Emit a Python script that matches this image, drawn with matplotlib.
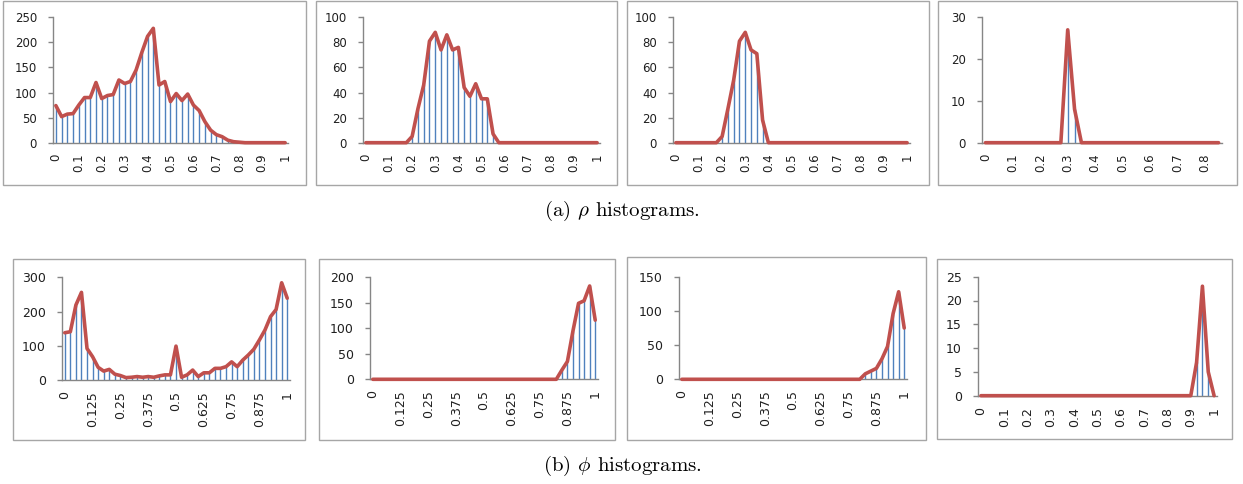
import matplotlib
matplotlib.use('Agg')
import matplotlib.pyplot as plt
from matplotlib.patches import Rectangle

plt.rcParams['mathtext.fontset'] = 'cm'
plt.rcParams['font.family'] = ['DejaVu Sans']

# ---------------- data ----------------
bins_41 = [0, 0.025, 0.05, 0.075, 0.1, 0.125, 0.15, 0.175, 0.2, 0.225, 0.25, 0.275, 0.3,
           0.325, 0.35, 0.375, 0.4, 0.425, 0.45, 0.475, 0.5, 0.525, 0.55, 0.575, 0.6,
           0.625, 0.65, 0.675, 0.7, 0.725, 0.75, 0.775, 0.8, 0.825, 0.85, 0.875, 0.9,
           0.925, 0.95, 0.975, 1.0]
bins_35 = bins_41[:35]

rho_1 = [74, 52, 57, 58, 75, 90, 90, 120, 88, 94, 96, 125, 118, 122, 145, 180, 212, 228,
         115, 122, 82, 98, 84, 97, 75, 64, 42, 25, 16, 12, 5, 2, 1, 0, 0, 0, 0, 0, 0, 0, 0]
rho_2 = [0, 0, 0, 0, 0, 0, 0, 0, 5, 27, 46, 81, 88, 74, 86, 74, 76, 44, 37, 47, 35, 35, 7,
         0, 0, 0, 0, 0, 0, 0, 0, 0, 0, 0, 0, 0, 0, 0, 0, 0, 0]
rho_3 = [0, 0, 0, 0, 0, 0, 0, 0, 5, 27, 50, 81, 88, 74, 71, 18, 0, 0, 0, 0, 0, 0, 0,
         0, 0, 0, 0, 0, 0, 0, 0, 0, 0, 0, 0, 0, 0, 0, 0, 0, 0]
rho_4 = [0, 0, 0, 0, 0, 0, 0, 0, 0, 0, 0, 0, 27, 8, 0, 0, 0, 0, 0, 0, 0, 0, 0,
         0, 0, 0, 0, 0, 0, 0, 0, 0, 0, 0, 0]

phi_1 = [138, 141, 219, 256, 92, 68, 37, 26, 31, 17, 13, 7, 8, 10, 8, 10, 8, 12, 15, 15, 99,
         8, 15, 29, 10, 21, 21, 34, 34, 39, 53, 39, 58, 73, 90, 117, 146, 185, 206, 284, 239]
phi_2 = [0, 0, 0, 0, 0, 0, 0, 0, 0, 0, 0, 0, 0, 0, 0, 0, 0, 0, 0, 0, 0, 0, 0, 0, 0, 0, 0,
         0, 0, 0, 0, 0, 0, 0, 18, 35, 95, 149, 154, 183, 116]
phi_3 = [0, 0, 0, 0, 0, 0, 0, 0, 0, 0, 0, 0, 0, 0, 0, 0, 0, 0, 0, 0, 0, 0, 0, 0, 0, 0, 0,
         0, 0, 0, 0, 0, 0, 8, 12, 16, 30, 48, 96, 128, 75]
phi_4 = [0, 0, 0, 0, 0, 0, 0, 0, 0, 0, 0, 0, 0, 0, 0, 0, 0, 0, 0, 0, 0, 0, 0, 0, 0, 0, 0,
         0, 0, 0, 0, 0, 0, 0, 0, 0, 0, 7, 23, 5, 0]

labels_tenths = ['0', '0.1', '0.2', '0.3', '0.4', '0.5', '0.6', '0.7', '0.8', '0.9', '1']
labels_tenths_short = ['0', '0.1', '0.2', '0.3', '0.4', '0.5', '0.6', '0.7', '0.8']
labels_eighths = ['0', '0.125', '0.25', '0.375', '0.5', '0.625', '0.75', '0.875', '1']

captions = [r'(a) $\rho$ histograms.', r'(b) $\phi$ histograms.']

# ---------------- style ----------------
W, H = 1243, 484
BLUE = '#4F81BD'
RED = '#C0504D'
AXIS_GREY = '#868686'
BOX_GREY = '#A6A6A6'
TXT = '#1F1F1F'

fig = plt.figure(figsize=(W / 100, H / 100), dpi=100)


def add_panel(box, axrect, cats, values, label_step, tick_labels, ymax, ystep, fs):
    bx0, by0, bx1, by1 = box
    fig.patches.append(Rectangle((bx0 / W, 1 - by1 / H), (bx1 - bx0) / W, (by1 - by0) / H,
                                 transform=fig.transFigure, fill=False,
                                 edgecolor=BOX_GREY, lw=1.0))
    l, r, yb, yt = axrect
    ax = fig.add_axes([l / W, 1 - yb / H, (r - l) / W, (yb - yt) / H])
    pos = list(range(len(cats)))
    ax.vlines(pos, 0, values, colors=BLUE, lw=1.0, zorder=2)
    ax.plot(pos, values, color=RED, lw=2.6, solid_joinstyle='round',
            solid_capstyle='round', zorder=3, clip_on=False)
    ax.set_xlim(-0.5, len(cats) - 0.5)
    ax.set_ylim(0, ymax)
    ax.set_xticks(pos[::label_step][:len(tick_labels)])
    ax.set_xticklabels(tick_labels, rotation=90, fontsize=fs, color=TXT)
    yt_vals = list(range(0, ymax + 1, ystep))
    ax.set_yticks(yt_vals)
    ax.set_yticklabels([str(v) for v in yt_vals], fontsize=fs, color=TXT)
    ax.tick_params(axis='x', length=0, pad=8)
    ax.tick_params(axis='y', length=3.5, width=1, color=AXIS_GREY, pad=8)
    for s in ('top', 'right'):
        ax.spines[s].set_visible(False)
    for s in ('left', 'bottom'):
        ax.spines[s].set_color(AXIS_GREY)
        ax.spines[s].set_linewidth(1.0)
    ax.patch.set_alpha(0)
    return ax


# Row (a): rho
add_panel((3, 1, 306, 185), (53, 288, 142.7, 17.3), bins_41, rho_1, 4, labels_tenths, 250, 50, 8.5)
add_panel((316, 1, 617, 185), (363, 600, 142.7, 17.3), bins_41, rho_2, 4, labels_tenths, 100, 20, 8.5)
add_panel((627, 1, 929, 185), (673, 910, 142.7, 17.3), bins_41, rho_3, 4, labels_tenths, 100, 20, 8.5)
add_panel((938, 1, 1237, 185), (982, 1222, 142.7, 17.3), bins_35, rho_4, 4, labels_tenths_short, 30, 10, 8.5)

# Row (b): phi
add_panel((13, 259, 305, 440), (62, 290, 380, 277.3), bins_41, phi_1, 5, labels_eighths, 300, 100, 9)
add_panel((319, 259, 615, 440), (370, 598, 379.3, 277.3), bins_41, phi_2, 5, labels_eighths, 200, 50, 9)
add_panel((627, 257, 926, 440), (679, 907, 379.3, 276.7), bins_41, phi_3, 5, labels_eighths, 150, 50, 9)
add_panel((937, 259, 1232, 439), (978, 1217, 395.7, 276.7), bins_41, phi_4, 4, labels_tenths, 25, 5, 9)

fig.text(622 / W, 1 - 211 / H, captions[0], ha='center', va='center', fontsize=15, family='cmr10')
fig.text(622 / W, 1 - 466 / H, captions[1], ha='center', va='center', fontsize=15, family='cmr10')

fig.savefig('out.png', dpi=100)
